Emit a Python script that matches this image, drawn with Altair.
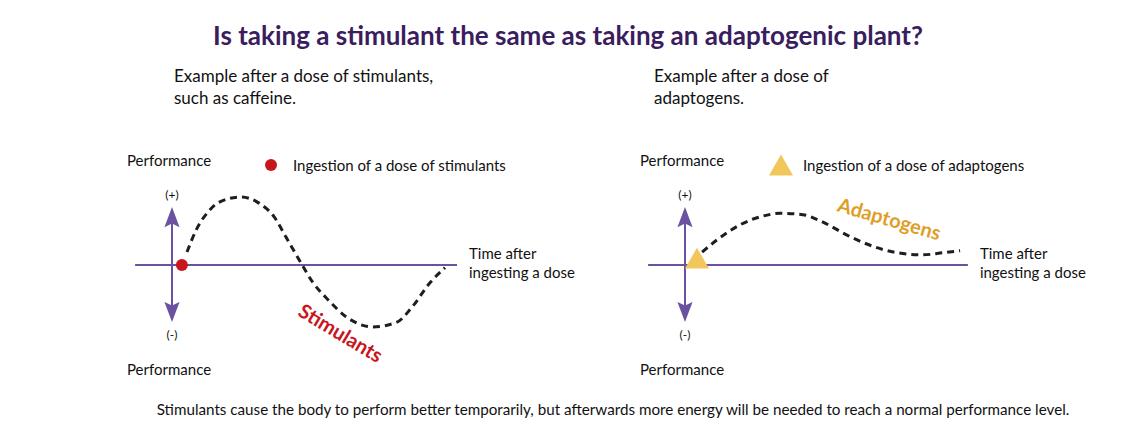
import altair as alt
import pandas as pd

# ---------------- data (time after dose, relative performance) ----------------
stim_time = [0.5, 0.8, 1.2, 1.6, 2.3, 2.9, 3.4, 3.8, 4.3, 4.7, 5.2, 5.8, 6.7, 7.5, 8.0, 8.6, 9.1]
stim_perf = [0.19, 0.51, 0.78, 0.93, 1.0, 0.91, 0.71, 0.41, 0.03, -0.26, -0.51, -0.76, -0.91, -0.84, -0.62, -0.26, -0.04]
stim_dose_time = [0.33]
stim_dose_perf = [0.0]

adapt_time = [0.57, 1.07, 1.83, 2.6, 3.17, 3.93, 4.6, 5.4, 6.17, 7.07, 7.93, 8.6, 9.17]
adapt_perf = [0.19, 0.37, 0.59, 0.72, 0.76, 0.74, 0.63, 0.44, 0.29, 0.18, 0.15, 0.18, 0.21]
adapt_dose_time = [0.4]
adapt_dose_perf = [0.1]

title_text = "Is taking a stimulant the same as taking an adaptogenic plant?"
left_sub = ["Example after a dose of stimulants,", "such as caffeine."]
right_sub = ["Example after a dose of", "adaptogens."]
left_legend = "Ingestion of a dose of stimulants"
right_legend = "Ingestion of a dose of adaptogens"
y_label = "Performance"
plus_label = "(+)"
minus_label = "(-)"
x_label = ["Time after", "ingesting a dose"]
stim_name = "Stimulants"
adapt_name = "Adaptogens"
caption = ("Stimulants cause the body to perform better temporarily, but afterwards more "
           "energy will be needed to reach a normal performance level.")

# ---------------- styling / layout ----------------
FONT = "Lato"
PURPLE = "#6b519f"
TITLE_COL = "#3a1d5e"
RED = "#c8161d"
YELLOW = "#f1c75b"
ORANGE = "#de9f2a"
H = 413
PX_T = 30.0   # pixels per time unit
PX_P = 68.0   # pixels per performance unit
ZERO_Y = 257  # pixel row of performance 0 in each panel
ARROW = "M0,-1L0.42,0.12L0,-0.08L-0.42,0.12Z"
ARROW_R = 18.0
BODY = 15


def scales(width, t0px):
    xs = alt.Scale(domain=[-t0px / PX_T, (width - t0px) / PX_T], nice=False, zero=False)
    ys = alt.Scale(domain=[-(H - ZERO_Y) / PX_P, ZERO_Y / PX_P], nice=False, zero=False)
    return xs, ys


def label(text, x, y, size=BODY, align="left", color="#111111", weight="normal", angle=0,
          baseline="middle", line_height=None):
    kw = dict(font=FONT, fontSize=size, align=align, color=color, fontWeight=weight,
              baseline=baseline)
    if angle:
        kw["angle"] = angle
    if line_height:
        kw["lineBreak"] = "\n"
        kw["lineHeight"] = line_height
    return alt.Chart(pd.DataFrame({"label": [text]})).mark_text(**kw).encode(
        x=alt.value(x), y=alt.value(y), text="label:N")


def panel(width, t0px, curve_t, curve_p, dose_t, dose_p, dose_shape, dose_color,
          dose_size, sub, sub_x, legend_text, legend_x, name, name_xy, name_color,
          name_angle, x_axis_end, extra=()):
    xs, ys = scales(width, t0px)
    X = lambda v: alt.X(datum=v, type="quantitative", scale=xs, axis=None)
    Y = lambda v: alt.Y(datum=v, type="quantitative", scale=ys, axis=None)
    base = alt.Chart(pd.DataFrame({"k": [0]}))
    tip_top = 0.853
    tip_bot = -0.84
    layers = [
        base.mark_rule(color=PURPLE, strokeWidth=2).encode(
            x=X(-1.23), x2=alt.X2(datum=x_axis_end), y=Y(0)),
        base.mark_rule(color=PURPLE, strokeWidth=2).encode(
            x=X(0), y=Y(tip_top - 0.2), y2=alt.Y2(datum=tip_bot + 0.2)),
        base.mark_point(shape=ARROW, filled=True, color=PURPLE, opacity=1,
                        size=(2 * ARROW_R) ** 2).encode(
            x=X(0), y=Y(tip_top - ARROW_R / PX_P)),
        base.mark_point(shape=ARROW, filled=True, color=PURPLE, opacity=1, angle=180,
                        size=(2 * ARROW_R) ** 2).encode(
            x=X(0), y=Y(tip_bot + ARROW_R / PX_P)),
        alt.Chart(pd.DataFrame({"t": curve_t, "p": curve_p})).mark_line(
            color="#1e1e1e", strokeWidth=3, strokeDash=[7, 5], interpolate="monotone",
            strokeCap="butt").encode(
            x=alt.X("t:Q", scale=xs, axis=None), y=alt.Y("p:Q", scale=ys, axis=None)),
        alt.Chart(pd.DataFrame({"t": dose_t, "p": dose_p})).mark_point(
            shape=dose_shape, filled=True, color=dose_color, opacity=1, size=dose_size).encode(
            x=alt.X("t:Q", scale=xs, axis=None), y=alt.Y("p:Q", scale=ys, axis=None)),
        # legend symbol
        base.mark_point(shape=dose_shape, filled=True, color=dose_color, opacity=1,
                        size=dose_size).encode(x=alt.value(legend_x), y=alt.value(157)),
        label(legend_text, legend_x + 22, 158),
        label(y_label, t0px - 45, 153),
        label(y_label, t0px - 45, 362),
        label(plus_label, t0px, 187, 12, align="center"),
        label(minus_label, t0px, 327, 12, align="center"),
        label("\n".join(x_label), t0px + (x_axis_end * PX_T) + 12, 239,
              baseline="top", line_height=19),
        label("\n".join(sub), sub_x, 61, 17, baseline="top", line_height=22),
        label(name, name_xy[0], name_xy[1], 20, align="center", color=name_color,
              weight="bold", angle=name_angle),
    ]
    layers += list(extra)
    return alt.layer(*layers).properties(width=width, height=H)


left = panel(559, 164, stim_time, stim_perf, stim_dose_time, stim_dose_perf, "circle", RED,
             144, left_sub, 166, left_legend, 263, stim_name, (332, 326), RED, 31, 9.5,
             extra=[
                 label(title_text, 560, 29, 26, align="center", color=TITLE_COL, weight="bold"),
                 label(caption, 605, 402, 15.2, align="center"),
             ])
right = panel(560, 118, adapt_time, adapt_perf, adapt_dose_time, adapt_dose_perf,
              "triangle-up", YELLOW, 576, right_sub, 87, right_legend, 214, adapt_name,
              (322, 212), ORANGE, 16, 9.43)

chart = alt.hconcat(left, right, spacing=0, bounds="flush").properties(
    padding=0).configure_view(stroke=None)

chart.save("out.html", embed_options={"renderer": "svg", "actions": False})
